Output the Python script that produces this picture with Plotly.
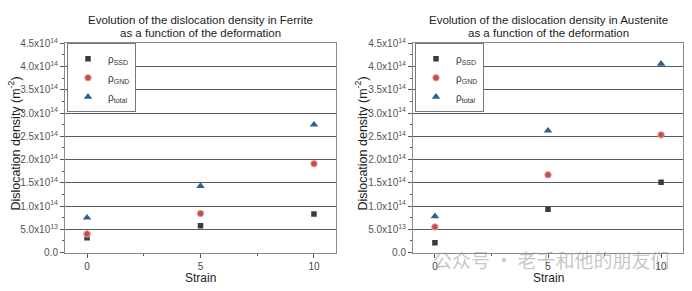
import plotly.graph_objects as go

strain = [0, 5, 10]
fer_ssd = [0.32e14, 0.575e14, 0.83e14]
fer_gnd = [0.40e14, 0.84e14, 1.91e14]
fer_tot = [0.75e14, 1.43e14, 2.75e14]
aus_ssd = [0.21e14, 0.93e14, 1.51e14]
aus_gnd = [0.55e14, 1.67e14, 2.53e14]
aus_tot = [0.78e14, 2.62e14, 4.06e14]

ytick_vals = [0, 0.5e14, 1.0e14, 1.5e14, 2.0e14, 2.5e14, 3.0e14, 3.5e14, 4.0e14, 4.5e14]
ytick_text = ["0.0", "5.0x10<sup>13</sup>", "1.0x10<sup>14</sup>", "1.5x10<sup>14</sup>",
              "2.0x10<sup>14</sup>", "2.5x10<sup>14</sup>", "3.0x10<sup>14</sup>",
              "3.5x10<sup>14</sup>", "4.0x10<sup>14</sup>", "4.5x10<sup>14</sup>"]
yminor_vals = [0.25e14 + 0.5e14 * i for i in range(9)]
xtick_vals = [0, 5, 10]
xminor_vals = [2.5, 7.5]
series_names = ["ρ<sub>SSD</sub>", "ρ<sub>GND</sub>", "ρ<sub>total</sub>"]
titles_line1 = ["Evolution of the dislocation density in Ferrite",
                "Evolution of the dislocation density in Austenite"]
titles_line2 = ["as a function of the deformation", "as a function of the deformation"]

FONT = "Liberation Sans, Arial, sans-serif"
styles = [
    dict(symbol="square", size=5.5, color="#3b3b3d", line=dict(width=0)),
    dict(symbol="circle", size=6.5, color="#c0504d", line=dict(width=1, color="#f0a0a0")),
    dict(symbol="triangle-up", size=7.5, color="#2f5f8f", line=dict(width=0)),
]

fig = go.Figure()
panels = [
    ("x", "y", "legend", [fer_ssd, fer_gnd, fer_tot]),
    ("x2", "y2", "legend2", [aus_ssd, aus_gnd, aus_tot]),
]
for xa, ya, lg, data in panels:
    for name, vals, st in zip(series_names, data, styles):
        fig.add_trace(go.Scatter(x=strain, y=vals, mode="markers", name=name,
                                 marker=st, xaxis=xa, yaxis=ya, legend=lg))

yd = [1 - 257 / 291, 1 - 38 / 291]
axis_common = dict(showline=True, mirror=True, linecolor="#8a8a8a", linewidth=1,
                   ticks="outside", ticklen=4, tickcolor="#555", zeroline=False)
xcommon = dict(axis_common, range=[-0.97, 10.97], tickvals=xtick_vals, showgrid=False,
               tickfont=dict(size=10, color="#444", family=FONT),
               minor=dict(tickvals=xminor_vals, ticks="outside", ticklen=2, tickcolor="#555"))
ycommon = dict(axis_common, range=[0, 4.5e14], tickvals=ytick_vals, ticktext=ytick_text,
               showgrid=True, gridcolor="#5a5a5a", gridwidth=1,
               tickfont=dict(size=10, color="#555", family=FONT),
               minor=dict(tickvals=yminor_vals, ticks="outside", ticklen=2, tickcolor="#555"))

leg_common = dict(bgcolor="white", bordercolor="#777", borderwidth=1,
                  font=dict(size=10, color="#333", family=FONT), tracegroupgap=0,
                  xanchor="left", yanchor="top", itemwidth=30)

fig.update_layout(
    width=692, height=291, margin=dict(l=0, r=0, t=0, b=0),
    paper_bgcolor="white", plot_bgcolor="white", font=dict(family=FONT),
    xaxis=dict(xcommon, domain=[65 / 692, 336 / 692], anchor="y"),
    yaxis=dict(ycommon, domain=yd, anchor="x"),
    xaxis2=dict(xcommon, domain=[413 / 692, 683 / 692], anchor="y2"),
    yaxis2=dict(ycommon, domain=yd, anchor="x2"),
    legend=dict(leg_common, x=67 / 692, y=1 - 38 / 291),
    legend2=dict(leg_common, x=415 / 692, y=1 - 38 / 291),
    showlegend=True,
)

anns = []
for cx, t1, t2 in [(200 / 692, titles_line1[0], titles_line2[0]),
                   (548 / 692, titles_line1[1], titles_line2[1])]:
    for cy, t in [(14, t1), (27, t2)]:
        anns.append(dict(x=cx, y=1 - cy / 291, xref="paper", yref="paper", text=t,
                         showarrow=False, xanchor="center", yanchor="middle",
                         font=dict(size=11.5, color="#222", family=FONT)))
for cx in [200 / 692, 548 / 692]:
    anns.append(dict(x=cx, y=1 - 284 / 291, xref="paper", yref="paper", text="Strain",
                     xanchor="center", yanchor="middle",
                     showarrow=False, font=dict(size=12, color="#222", family=FONT)))
for cx in [14 / 692, 361 / 692]:
    anns.append(dict(x=cx, y=1 - 143 / 291, xref="paper", yref="paper",
                     text="Dislocation density (m<sup>-2</sup>)", textangle=-90,
                     xanchor="center", yanchor="middle",
                     showarrow=False, font=dict(size=12.5, color="#222", family=FONT)))
anns.append(dict(x=551 / 692, y=1 - 264 / 291, xref="paper", yref="paper",
                 text="公众号 · 老千和他的朋友们", showarrow=False,
                 xanchor="center", yanchor="middle",
                 font=dict(size=19, color="rgba(150,150,150,0.55)",
                           family="Noto Sans CJK SC")))
fig.update_layout(annotations=anns)

fig.write_html("out.html")
